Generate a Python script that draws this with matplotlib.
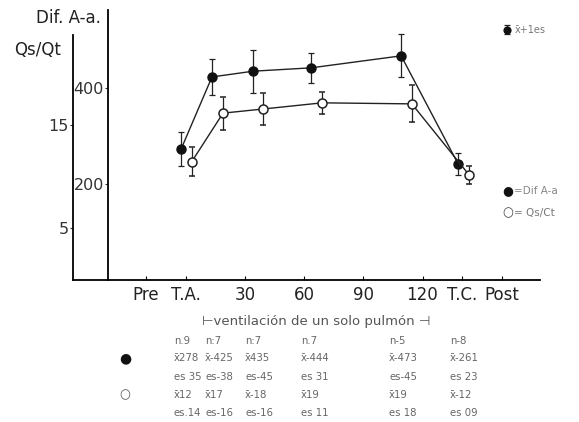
import matplotlib
matplotlib.use("Agg")
import matplotlib.pyplot as plt

# positions sur l'axe horizontal (unités arbitraires, Pre = 0)
tick_pos = [0, 1, 2.5, 4, 5.5, 7, 8, 9]
tick_lab = ["Pre", "T.A.", "30", "60", "90", "120", "T.C.", "Post"]

# Dif A-a (points noirs)
x_dif = [0.89, 1.67, 2.71, 4.18, 6.46, 7.90]
dif_m = [273, 423, 435, 442, 467, 242]
dif_es = [35, 38, 45, 31, 45, 23]

# Qs/Qt (points blancs)
x_qs = [1.16, 1.95, 2.96, 4.46, 6.73, 8.18]
qs_m = [11.5, 16.2, 16.6, 17.2, 17.1, 10.2]
qs_es = [1.4, 1.6, 1.6, 1.1, 1.8, 0.9]

# tableau sous le graphique
tab_n = ["n.9", "n:7", "n:7", "n.7", "n-5", "n-8"]
tab_dif_x = ["x\u0304278", "x\u0304-425", "x\u0304435", "x\u0304-444", "x\u0304-473", "x\u0304-261"]
tab_dif_es = ["es 35", "es-38", "es-45", "es 31", "es-45", "es 23"]
tab_qs_x = ["x\u030412", "x\u030417", "x\u0304-18", "x\u030419", "x\u030419", "x\u0304-12"]
tab_qs_es = ["es.14", "es-16", "es-16", "es 11", "es 18", "es 09"]

W, H = 579, 422
fig = plt.figure(figsize=(W / 100, H / 100), dpi=100)
plt.rcParams['font.family'] = ['DejaVu Sans']

px = 39.5  # pixels par unité en x
x0 = 146
ax = fig.add_axes([73 / W, 1 - 280 / H, (540 - 73) / W, 270 / H])
ax.set_xlim((73 - x0) / px, (540 - x0) / px)
ax.set_ylim(0, 270 / 0.48)
ax.patch.set_alpha(0)

ax2 = ax.twinx()
ax2.set_ylim(0, 270 / 10.3)

# axe Dif A-a (intérieur)
for s in ["top", "right"]:
    ax.spines[s].set_visible(False)
ax.spines["left"].set_position(("data", (108 - x0) / px))
ax.spines["left"].set_linewidth(1.3)
ax.spines["bottom"].set_linewidth(1.3)
ax.set_yticks([200, 400])
ax.set_yticklabels(["200", "400"])
ax.tick_params(axis="y", length=2, pad=1, labelsize=11.5, color="#333", labelcolor="#333")

ax.set_xticks(tick_pos)
ax.set_xticklabels(tick_lab)
ax.tick_params(axis="x", direction="in", length=3, pad=4, labelsize=12, labelcolor="#222")

# axe Qs/Qt (extérieur)
for s in ["top", "right", "bottom"]:
    ax2.spines[s].set_visible(False)
ax2.spines["left"].set_visible(True)
ax2.spines["left"].set_bounds(0, (280 - 35) / 10.3)
ax2.spines["left"].set_linewidth(1.3)
ax2.yaxis.tick_left()
ax2.set_yticks([5, 15])
ax2.set_yticklabels(["5", "15"])
ax2.tick_params(axis="y", length=2, pad=1, labelsize=11.5, color="#333", labelcolor="#333")

# courbes avec barres d'erreur
ax.plot(x_dif, dif_m, color="#222", lw=1.0, zorder=2)
h_dif = ax.errorbar(x_dif, dif_m, yerr=dif_es, fmt="o", color="#111", ms=6.5,
                    ecolor="#222", elinewidth=0.9, capsize=2.5, capthick=0.9, zorder=3)
ax2.plot(x_qs, qs_m, color="#222", lw=1.0, zorder=2)
ax2.errorbar(x_qs, qs_m, yerr=qs_es, fmt="o", mfc="white", mec="#222", mew=1.1, ms=6.5,
             ecolor="#222", elinewidth=0.9, capsize=2.5, capthick=0.9, zorder=3)

# titres des axes
fig.text(68 / W, 1 - 18 / H, "Dif. A-a.", fontsize=12, ha="center", va="center", color="#222")
fig.text(38 / W, 1 - 50 / H, "Qs/Qt", fontsize=12, ha="center", va="center", color="#222")

fig.text(316 / W, 1 - 322 / H, "\u22a2ventilación de un solo pulmón \u22a3", fontsize=9.5,
         ha="center", va="center", color="#555")

# légendes
ax2.legend([h_dif], ["x\u0304+1es"], loc="center left", bbox_to_anchor=(503 / W, 1 - 30 / H),
           bbox_transform=fig.transFigure, frameon=False, fontsize=7, handlelength=0.8,
           handletextpad=0.4, labelcolor="#777", borderpad=0, borderaxespad=0, markerscale=0.75)
fig.text(508 / W, 1 - 191 / H, "\u25cf", fontsize=9, ha="center", va="center", color="#111")
fig.text(514 / W, 1 - 191 / H, "=Dif A-a", fontsize=7.5, ha="left", va="center", color="#888")
fig.text(508 / W, 1 - 213 / H, "\u25cb", fontsize=9, ha="center", va="center", color="#444")
fig.text(514 / W, 1 - 213 / H, "= Qs/Ct", fontsize=7.5, ha="left", va="center", color="#777")

# tableau
cols = [174, 205, 245, 301, 389, 450]
rows = [341, 358, 377, 395, 413]
for row, vals in zip(rows, [tab_n, tab_dif_x, tab_dif_es, tab_qs_x, tab_qs_es]):
    for c, v in zip(cols, vals):
        fig.text(c / W, 1 - row / H, v, fontsize=7.3, ha="left", va="center", color="#666")
fig.text(125 / W, 1 - 358 / H, "\u25cf", fontsize=10, ha="center", va="center", color="#111")
fig.text(125 / W, 1 - 395 / H, "\u25cb", fontsize=9, ha="center", va="center", color="#555")

fig.savefig("out.png", dpi=100)
